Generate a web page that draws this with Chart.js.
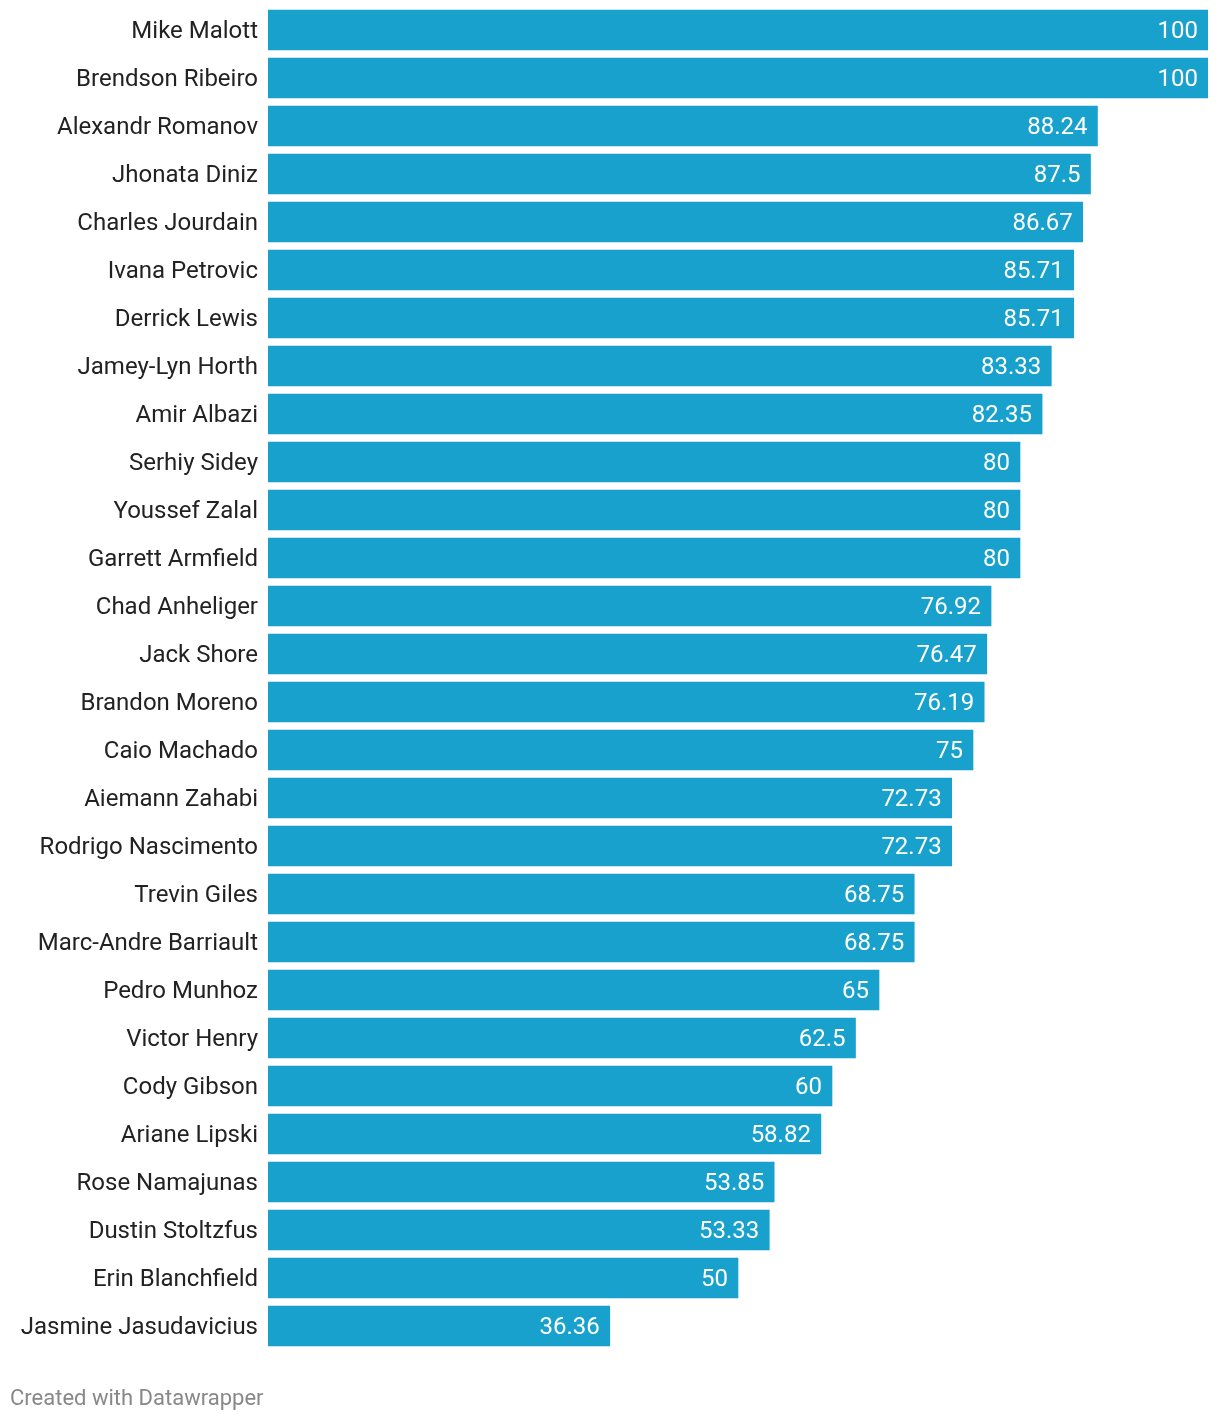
<!DOCTYPE html>
<html>
<head>
<meta charset="utf-8">
<script src="https://cdn.jsdelivr.net/npm/chart.js@4"></script>
<style>
  body { margin: 0; background: #fff; font-family: Roboto, sans-serif; }
  #wrap { position: relative; width: 1220px; height: 1422px; }
  #footer { position: absolute; left: 10px; top: 1385px; font-size: 22px; color: #888; }
</style>
</head>
<body>
<div id="wrap">
  <canvas id="myChart" width="1220" height="1422"></canvas>
  <div id="footer">Created with Datawrapper</div>
</div>
<script>
// fighters and their percentages, top to bottom
const fighters = ['Mike Malott', 'Brendson Ribeiro', 'Alexandr Romanov', 'Jhonata Diniz', 'Charles Jourdain',
  'Ivana Petrovic', 'Derrick Lewis', 'Jamey-Lyn Horth', 'Amir Albazi', 'Serhiy Sidey', 'Youssef Zalal',
  'Garrett Armfield', 'Chad Anheliger', 'Jack Shore', 'Brandon Moreno', 'Caio Machado', 'Aiemann Zahabi',
  'Rodrigo Nascimento', 'Trevin Giles', 'Marc-Andre Barriault', 'Pedro Munhoz', 'Victor Henry', 'Cody Gibson',
  'Ariane Lipski', 'Rose Namajunas', 'Dustin Stoltzfus', 'Erin Blanchfield', 'Jasmine Jasudavicius']

const values = [100, 100, 88.24, 87.5, 86.67, 85.71, 85.71, 83.33, 82.35, 80, 80, 80, 76.92, 76.47, 76.19,
  75, 72.73, 72.73, 68.75, 68.75, 65, 62.5, 60, 58.82, 53.85, 53.33, 50, 36.36]

// white value text at the end of each bar
const valueLabels = {
  id: 'valueLabels',
  afterDatasetsDraw(chart) {
    const ctx = chart.ctx
    const meta = chart.getDatasetMeta(0)
    ctx.save()
    ctx.font = '24px Roboto'
    ctx.fillStyle = '#fff'
    ctx.textAlign = 'right'
    ctx.textBaseline = 'middle'
    meta.data.forEach(function (bar, i) {
      ctx.fillText(String(values[i]), bar.x - 10, bar.y + 2)
    })
    ctx.restore()
  }
}

var ctx = document.getElementById('myChart').getContext('2d')

var myChart = new Chart(ctx, {
  type: 'bar',
  data: {
    labels: fighters,
    datasets: [{
      data: values,
      backgroundColor: '#18a1cd',
      borderWidth: 0,
      barThickness: 40
    }]
  },
  options: {
    indexAxis: 'y',
    responsive: false,
    animation: false,
    devicePixelRatio: 1,
    layout: {
      padding: { top: 6, right: 12, bottom: 72, left: 0 }
    },
    plugins: {
      legend: { display: false },
      tooltip: { enabled: false }
    },
    scales: {
      x: {
        display: false,
        min: 0,
        max: 100
      },
      y: {
        grid: { display: false, drawTicks: false },
        border: { display: false },
        ticks: {
          padding: 10,
          labelOffset: 2,
          color: '#222',
          font: { family: 'Roboto', size: 24 }
        },
        afterFit(scale) {
          scale.width = 268
          scale.paddingTop = 0
          scale.paddingBottom = 0
        }
      }
    }
  },
  plugins: [valueLabels]
})
</script>
</body>
</html>
